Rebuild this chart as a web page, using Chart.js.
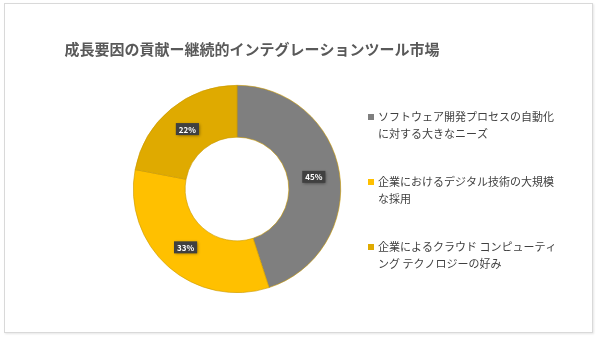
<!DOCTYPE html>
<html>
<head>
<meta charset="utf-8">
<script src="https://cdn.jsdelivr.net/npm/chart.js@4"></script>
<style>
  html, body { margin: 0; padding: 0; background: #fff; }
  #wrap { position: relative; width: 600px; height: 340px; }
  #frame { position: absolute; left: 4px; top: 3px; width: 587px; height: 328px; border: 1px solid #d9d9d9; box-shadow: 1px 1px 2px #e6e6e6; }
  canvas { position: absolute; left: 0; top: 0; }
</style>
</head>
<body>
<div id="wrap">
  <div id="frame"></div>
  <canvas id="chart" width="600" height="340"></canvas>
</div>
<script>
var title = '成長要因の貢献ー継続的インテグレーションツール市場'
var labels = [
  ['ソフトウェア開発プロセスの自動化', 'に対する大きなニーズ'],
  ['企業におけるデジタル技術の大規模', 'な採用'],
  ['企業によるクラウド コンピューティ', 'ング テクノロジーの好み']
]
var values = [45, 33, 22]
var colors = ['#7f7f7f', '#ffc000', '#dfaa00']

var fontFamily = '"Noto Sans CJK JP", "Noto Sans", sans-serif'

// title drawn over the whole frame
var titlePlugin = {
  id: 'titleText',
  afterDraw: function (chart) {
    var ctx = chart.ctx
    ctx.save()
    ctx.font = 'bold 15px ' + fontFamily
    ctx.fillStyle = '#595959'
    ctx.textAlign = 'center'
    ctx.textBaseline = 'middle'
    ctx.fillText(title, 252, 49)
    ctx.restore()
  }
}

// legend with wrapped lines on the right
var legendPlugin = {
  id: 'sideLegend',
  afterDraw: function (chart) {
    var ctx = chart.ctx
    var ds = chart.data.datasets[0]
    ctx.save()
    ctx.font = '11px ' + fontFamily
    ctx.textBaseline = 'middle'
    ctx.textAlign = 'left'
    chart.data.labels.forEach(function (lab, i) {
      var y = 117 + i * 65
      ctx.fillStyle = ds.backgroundColor[i]
      ctx.fillRect(368, y - 3, 6, 6)
      ctx.fillStyle = '#404040'
      lab.forEach(function (line, j) {
        ctx.fillText(line, 378, y + j * 17)
      })
    })
    ctx.restore()
  }
}

// percentage boxes in the middle of each slice
var valueLabels = {
  id: 'valueLabels',
  afterDatasetsDraw: function (chart) {
    var ctx = chart.ctx
    var meta = chart.getDatasetMeta(0)
    var ds = chart.data.datasets[0]
    ctx.save()
    ctx.font = 'bold 8px ' + fontFamily
    ctx.textAlign = 'center'
    ctx.textBaseline = 'middle'
    meta.data.forEach(function (arc, i) {
      var p = arc.tooltipPosition()
      var txt = ds.data[i] + '%'
      var w = ctx.measureText(txt).width + 6
      var h = 12
      ctx.shadowColor = 'rgba(0,0,0,0.45)'
      ctx.shadowBlur = 3
      ctx.shadowOffsetX = 1
      ctx.shadowOffsetY = 1
      ctx.fillStyle = '#404040'
      ctx.fillRect(p.x - w / 2, p.y - h / 2, w, h)
      ctx.shadowColor = 'transparent'
      ctx.fillStyle = '#ffffff'
      ctx.fillText(txt, p.x, p.y + 0.5)
    })
    ctx.restore()
  }
}

var ctx = document.getElementById('chart').getContext('2d')
new Chart(ctx, {
  type: 'doughnut',
  data: {
    labels: labels,
    datasets: [{
      data: values,
      backgroundColor: colors,
      borderColor: '#c99800',
      borderWidth: 0.6
    }]
  },
  options: {
    responsive: false,
    animation: false,
    events: [],
    cutout: '50%',
    layout: {
      padding: { left: 133, right: 259, top: 85, bottom: 47 }
    },
    plugins: {
      legend: { display: false },
      tooltip: { enabled: false },
      title: { display: false }
    }
  },
  plugins: [titlePlugin, legendPlugin, valueLabels]
})
</script>
</body>
</html>
